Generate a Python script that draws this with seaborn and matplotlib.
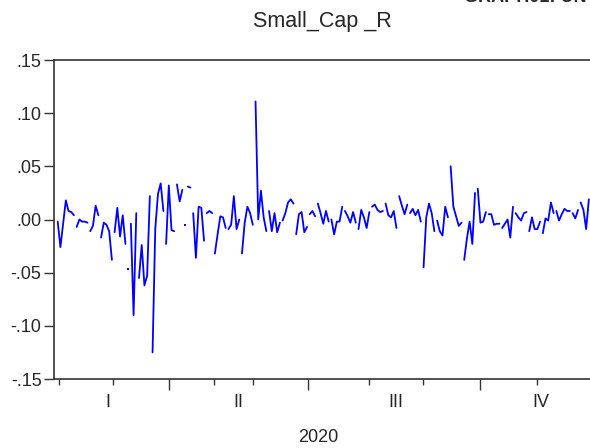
import numpy as np
import pandas as pd
import matplotlib
matplotlib.use("Agg")
import matplotlib.pyplot as plt
import matplotlib.transforms as mtransforms
import seaborn as sns

title = "Small_Cap _R"
corner_text = "GRAPH01: UNTITLED"
year_label = "2020"

# daily returns, in order of observation; None marks a break in the line
seg_q1 = [-0.002, -0.026, -0.004, 0.018, 0.008, 0.007, 0.004, None,
          -0.007, 0.000, -0.002, -0.002, -0.003, None,
          -0.011, -0.006, 0.013, 0.004, None,
          -0.017, -0.003, -0.005, -0.011, -0.038, None,
          -0.012, 0.011, -0.016, 0.004, -0.023, None,
          -0.047, None,
          -0.004, -0.090, 0.006, None,
          -0.055, -0.024, -0.062, -0.053, 0.022, None,
          -0.125, -0.009, 0.024, 0.034, 0.008, None,
          -0.023, 0.032, -0.010, -0.011, None]
seg_q2 = [0.033, 0.017, 0.028, None,
          -0.005, None,
          0.031, 0.030, None,
          0.006, -0.036, 0.012, 0.011, -0.020, None,
          0.006, 0.008, 0.006, None,
          -0.032, -0.014, 0.003, 0.002, -0.008, None,
          -0.009, -0.005, 0.022, -0.009, 0.000, None,
          -0.032, -0.003, 0.012, 0.006, -0.005, None,
          0.111, 0.000, 0.027, 0.002, -0.011, None,
          0.008, -0.011, 0.006, -0.012, -0.003, None,
          -0.001, 0.006, 0.016, 0.019, 0.015, None,
          -0.014, 0.005, 0.007, -0.012, -0.007, None,
          0.005, 0.008, 0.003, None]
seg_q3 = [0.015, 0.006, -0.004, 0.008, -0.002, None,
          0.000, -0.014, -0.002, -0.002, 0.012, None,
          0.008, 0.003, -0.003, 0.007, -0.003, None,
          -0.009, 0.009, 0.002, -0.008, 0.007, None,
          0.012, 0.014, 0.009, 0.007, 0.008, None,
          0.015, 0.004, 0.002, 0.008, -0.008, None,
          0.022, 0.013, 0.005, 0.014, None,
          0.006, 0.010, 0.004, 0.009, -0.002, None,
          -0.045, 0.002, 0.015, 0.006, -0.011, None,
          -0.001, -0.011, -0.015, 0.012, 0.002, None,
          0.050, 0.012, 0.003, -0.006, -0.003, None,
          -0.038, -0.018, -0.002, -0.023, 0.025, None]
seg_q4 = [0.029, -0.003, -0.002, 0.007, None,
          0.005, 0.005, -0.005, -0.004, -0.004, None,
          -0.008, -0.004, 0.000, -0.017, 0.012, None,
          0.006, 0.002, -0.001, 0.006, 0.007, None,
          -0.011, 0.002, -0.009, -0.009, -0.002, None,
          -0.013, 0.001, -0.001, 0.016, 0.006, None,
          0.008, -0.001, 0.005, 0.010, 0.008, 0.008, None,
          0.006, 0.001, 0.009, None,
          0.016, 0.009, -0.009, 0.019]

values = seg_q1 + seg_q2 + seg_q3 + seg_q4

# x axis (observation number): month boundaries, quarter boundaries, quarter labels
month_ticks = [0.5, 20.3, 57.8, 72.2, 114.8, 134.7, 177.0]
quarter_ticks = [40.9, 92.4, 156.0]
quarter_label_pos = [18.5, 66.7, 124.7, 178.4]
quarter_labels = ["I", "II", "III", "IV"]
ytick_vals = [-0.15, -0.10, -0.05, 0.00, 0.05, 0.10, 0.15]
ytick_labels = ["-.15", "-.10", "-.05", ".00", ".05", ".10", ".15"]

rows = []
seg = 0
obs = 0
for v in values:
    if v is None:
        seg += 1
        continue
    rows.append((obs, v, seg))
    obs += 1
df = pd.DataFrame(rows, columns=["obs", "ret", "seg"])
counts = df.groupby("seg")["obs"].transform("count")
single = df[counts == 1]

sns.set_style("white")
plt.rcParams["font.family"] = ["Liberation Sans", "DejaVu Sans"]

W, H = 590, 448
fig = plt.figure(figsize=(W / 100, H / 100), dpi=100)
ax = fig.add_axes([54 / W, 1 - 379 / H, 1 - 54 / W, (379 - 60) / H])

sns.lineplot(data=df, x="obs", y="ret", units="seg", estimator=None,
             color="#0000FF", linewidth=1.3, ax=ax, legend=False)
sns.scatterplot(data=single, x="obs", y="ret", color="#0000FF", marker="s",
                s=2.5, linewidth=0, ax=ax, legend=False)

ax.set_xlim((54 - 57.7) / 2.71, (590 - 57.7) / 2.71)
ax.set_ylim(-0.15, 0.15)
ax.set_xlabel("")
ax.set_ylabel("")

for side in ["left", "top", "bottom"]:
    ax.spines[side].set_visible(True)
    ax.spines[side].set_color("#333333")
    ax.spines[side].set_linewidth(1.2)
ax.spines["right"].set_visible(False)

ax.set_yticks(ytick_vals)
ax.set_yticklabels(ytick_labels)
ax.tick_params(axis="y", direction="out", length=7, width=1, color="#333333",
               labelsize=13, pad=2.0, left=True)

ax.set_xticks(month_ticks)
ax.set_xticks(quarter_ticks, minor=True)
ax.set_xticklabels([])
ax.tick_params(axis="x", which="major", direction="out", length=4, width=1,
               color="#333333", bottom=True)
ax.tick_params(axis="x", which="minor", direction="out", length=8, width=1,
               color="#333333", bottom=True)

trans = mtransforms.blended_transform_factory(ax.transData, ax.transAxes)
for pos, lab in zip(quarter_label_pos, quarter_labels):
    ax.text(pos, -(402 - 379) / (379 - 60), lab, transform=trans,
            ha="center", va="center", fontsize=13)

fig.text(318 / W, 1 - 437 / H, year_label, ha="center", va="center", fontsize=13)
fig.text(322 / W, 1 - 22 / H, title, ha="center", va="center", fontsize=15.5)
fig.text(464 / W, 1 - 2 / H, corner_text, ha="left", va="baseline",
         fontsize=13, fontweight="bold")

fig.savefig("out.png", dpi=100)
